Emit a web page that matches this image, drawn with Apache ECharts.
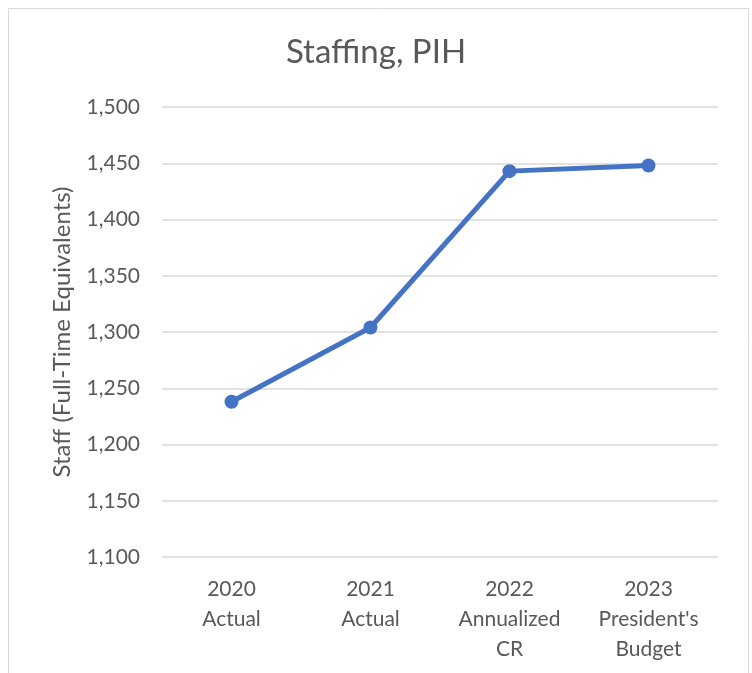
<!DOCTYPE html>
<html>
<head>
<meta charset="utf-8">
<script src="https://cdn.jsdelivr.net/npm/echarts@6/dist/echarts.min.js"></script>
<style>
  html, body { margin: 0; padding: 0; background: #ffffff; }
  #chart { width: 752px; height: 673px; }
</style>
</head>
<body>
<div id="chart"></div>
<script>
// Staffing levels (FTE) by fiscal year
const categories = ['2020\nActual', '2021\nActual', '2022\nAnnualized\nCR', "2023\nPresident's\nBudget"];
const staffFTE = [1238, 1304, 1443, 1448];
const yMin = 1100;
const yMax = 1500;
const yStep = 50;

const textColor = '#595959';
const fontFamily = 'Lato, "Open Sans", sans-serif';

const chart = echarts.init(document.getElementById('chart'), null, { renderer: 'canvas' });

chart.setOption({
  backgroundColor: '#ffffff',
  animation: false,
  textStyle: { fontFamily: fontFamily, color: textColor },
  title: {
    text: 'Staffing, PIH',
    left: 'center',
    top: 31,
    textStyle: { fontFamily: fontFamily, fontSize: 33, fontWeight: 'normal', color: textColor }
  },
  graphic: [{
    type: 'rect',
    shape: { x: 8.5, y: 8.5, width: 740, height: 700 },
    style: { fill: 'none', stroke: '#d9d9d9', lineWidth: 1 },
    silent: true
  }],
  grid: { left: 162, right: 34, top: 107, bottom: 116, containLabel: false },
  xAxis: {
    type: 'category',
    data: categories,
    boundaryGap: true,
    axisLine: { show: false },
    axisTick: { show: false },
    axisLabel: {
      color: textColor,
      fontFamily: fontFamily,
      fontSize: 21,
      lineHeight: 30,
      margin: 17
    }
  },
  yAxis: {
    type: 'value',
    min: yMin,
    max: yMax,
    interval: yStep,
    name: 'Staff (Full-Time Equivalents)',
    nameLocation: 'middle',
    nameGap: 88,
    nameTextStyle: { color: textColor, fontFamily: fontFamily, fontSize: 24 },
    axisLine: { show: false },
    axisTick: { show: false },
    axisLabel: {
      color: textColor,
      fontFamily: fontFamily,
      fontSize: 21,
      margin: 22,
      formatter: v => v.toLocaleString('en-US')
    },
    splitLine: { lineStyle: { color: '#d9d9d9', width: 1.5 } }
  },
  series: [{
    type: 'line',
    data: staffFTE,
    symbol: 'circle',
    symbolSize: 14,
    lineStyle: { color: '#4472C4', width: 5 },
    itemStyle: { color: '#4472C4' }
  }]
});
</script>
</body>
</html>
